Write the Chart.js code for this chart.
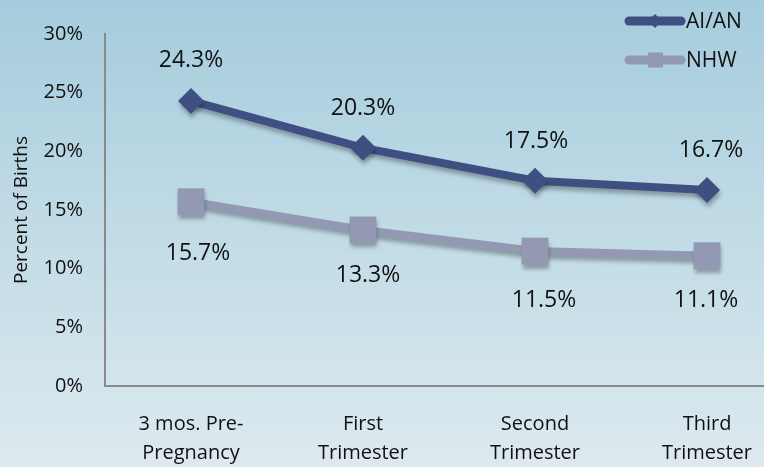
<!DOCTYPE html>
<html>
<head>
<meta charset="utf-8">
<script src="https://cdn.jsdelivr.net/npm/chart.js@4.4.1/dist/chart.umd.min.js"></script>
<style>
  html, body { margin: 0; padding: 0; overflow: hidden; }
  body {
    width: 764px;
    height: 467px;
    background: linear-gradient(to bottom, #a5ccdd 0%, #c4dde7 55%, #dde9ef 100%);
  }
  #wrap { width: 800px; height: 467px; }
</style>
</head>
<body>
<div id="wrap"><canvas id="myChart" width="800" height="467"></canvas></div>
<script>
const categories = [
  ["3 mos. Pre-", "Pregnancy"],
  ["First", "Trimester"],
  ["Second", "Trimester"],
  ["Third", "Trimester"],
];
const aianValues = [24.3, 20.3, 17.5, 16.7];
const nhwValues = [15.7, 13.3, 11.5, 11.1];
const seriesNames = ["AI/AN", "NHW"];
const yTickValues = [0, 5, 10, 15, 20, 25, 30];

const aianColor = "#3e5081";
const nhwColor = "#9399b3";
const fontFamily = "'Open Sans', sans-serif";

// where each value label sits relative to its point
const labelShift = [
  [[0, -40], [0, -39], [1, -39], [4, -40]],
  [[7, 52], [5, 46], [9, 49], [-1, 45]],
];

const ctx = document.getElementById("myChart").getContext("2d");

// shadow under the lines and markers
const shadowPlugin = {
  id: "shadow",
  beforeDatasetDraw(chart) {
    const c = chart.ctx;
    c.save();
    c.shadowColor = "rgba(0, 0, 0, 0.3)";
    c.shadowBlur = 4;
    c.shadowOffsetX = 1;
    c.shadowOffsetY = 4;
  },
  afterDatasetDraw(chart) {
    chart.ctx.restore();
  },
};

// value labels next to each point
const valueLabels = {
  id: "valueLabels",
  afterDatasetsDraw(chart) {
    const c = chart.ctx;
    c.save();
    c.font = `23px ${fontFamily}`;
    c.fillStyle = "#111";
    c.textAlign = "center";
    c.textBaseline = "middle";
    chart.data.datasets.forEach((ds, i) => {
      const meta = chart.getDatasetMeta(i);
      meta.data.forEach((pt, j) => {
        const [dx, dy] = labelShift[i][j];
        c.fillText(ds.data[j].toFixed(1) + "%", pt.x + dx, pt.y + dy);
      });
    });
    c.restore();
  },
};

// legend in the top right corner
const cornerLegend = {
  id: "cornerLegend",
  afterDraw(chart) {
    const c = chart.ctx;
    const rows = [21, 60];
    c.save();
    chart.data.datasets.forEach((ds, i) => {
      const y = rows[i];
      c.strokeStyle = ds.borderColor;
      c.lineWidth = 9;
      c.lineCap = "round";
      c.beginPath();
      c.moveTo(629, y);
      c.lineTo(681, y);
      c.stroke();
      c.fillStyle = ds.borderColor;
      c.beginPath();
      if (i === 0) {
        c.moveTo(655, y - 7);
        c.lineTo(662, y);
        c.lineTo(655, y + 7);
        c.lineTo(648, y);
      } else {
        c.rect(648, y - 7.5, 15, 15);
      }
      c.fill();
      c.fillStyle = "#111";
      c.font = `21px ${fontFamily}`;
      c.textAlign = "left";
      c.textBaseline = "middle";
      c.fillText(seriesNames[i], 686, y + 1);
    });
    c.restore();
  },
};

const myChart = new Chart(ctx, {
  type: "line",
  data: {
    labels: categories,
    datasets: [
      {
        label: seriesNames[0],
        data: aianValues,
        borderColor: aianColor,
        backgroundColor: aianColor,
        borderWidth: 8,
        pointStyle: "rectRot",
        pointRadius: 13,
        pointHoverRadius: 13,
        pointBorderWidth: 0,
        fill: false,
      },
      {
        label: seriesNames[1],
        data: nhwValues,
        borderColor: nhwColor,
        backgroundColor: nhwColor,
        borderWidth: 8,
        pointStyle: "rect",
        pointRadius: 19,
        pointHoverRadius: 19,
        pointBorderWidth: 0,
        fill: false,
      },
    ],
  },
  options: {
    responsive: false,
    animation: false,
    events: [],
    layout: { autoPadding: false, padding: { top: 28, right: 7, left: 0, bottom: 0 } },
    plugins: {
      legend: { display: false },
      tooltip: { enabled: false },
    },
    scales: {
      x: {
        offset: true,
        grid: { display: false, drawTicks: false },
        border: { display: true, color: "#8a8a8a", width: 2 },
        ticks: {
          color: "#111",
          font: { family: fontFamily, size: 20, lineHeight: 1.45 },
          padding: 24,
          maxRotation: 0,
          autoSkip: false,
        },
        afterFit(scale) {
          scale.height = 81;
          scale.paddingLeft = 0;
          scale.paddingRight = 0;
        },
      },
      y: {
        min: 0,
        max: 30,
        afterBuildTicks(scale) {
          scale.ticks = yTickValues.map((v) => ({ value: v }));
        },
        grid: { display: false, drawTicks: false },
        border: { display: true, color: "#8a8a8a", width: 2 },
        ticks: {
          color: "#111",
          font: { family: fontFamily, size: 20 },
          padding: 22,
          callback: (v) => v + "%",
        },
        title: {
          display: true,
          text: "Percent of Births",
          color: "#111",
          font: { family: fontFamily, size: 19 },
          padding: { top: 10, bottom: 0 },
        },
        afterFit(scale) {
          scale.width = 105;
        },
      },
    },
  },
  plugins: [shadowPlugin, valueLabels, cornerLegend],
});
</script>
</body>
</html>
